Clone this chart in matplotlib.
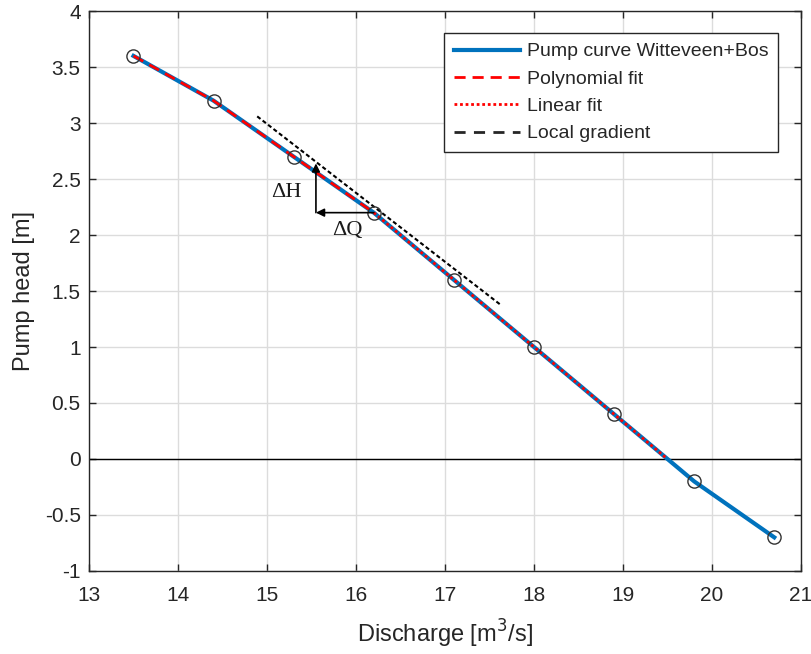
import matplotlib
matplotlib.use('Agg')
import matplotlib.pyplot as plt
import matplotlib.lines as mlines

# pump curve points (discharge in m3/s, head in m)
discharge = [13.5, 14.4, 15.3, 16.2, 17.1, 18.0, 18.9, 19.8, 20.7]
head = [3.6, 3.2, 2.7, 2.2, 1.6, 1.0, 0.4, -0.2, -0.7]

# fits
poly_q = [13.5, 14.4, 15.3, 16.2]
poly_h = [3.6, 3.2, 2.7, 2.2]
lin_q = [16.2, 19.5]
lin_h = [2.2, 0.0]

# local gradient line and the dH / dQ triangle
grad_q = [14.89, 17.62]
grad_h = [3.06, 1.38]
tri_q = [16.2, 15.55]
tri_h = [2.2, 2.64]

plt.rcParams['font.family'] = ['Liberation Sans', 'DejaVu Sans']
dark = '#262626'
blue = '#0072BD'

fig = plt.figure(figsize=(8.12, 6.54), dpi=100)
ax = fig.add_axes([0.1096, 0.127, 0.8768, 0.856])

ax.axhline(0, color='k', lw=1, zorder=2)
ax.plot(discharge, head, color=blue, lw=3, zorder=3)
ax.plot(poly_q, poly_h, color='red', lw=2, linestyle=(0, (4, 2.5)), zorder=4)
ax.plot(lin_q, lin_h, color='red', lw=2, linestyle=(0, (1, 1)), zorder=4)
ax.plot(grad_q, grad_h, color='k', lw=1.5, linestyle=(0, (2, 1.3)), zorder=4)
ax.plot(discharge, head, linestyle='None', marker='o', markersize=9.5,
        markerfacecolor='none', markeredgecolor='#333333', markeredgewidth=1, zorder=5)

arrow = dict(arrowstyle='-|>', color='k', lw=1.2, mutation_scale=12, shrinkA=0, shrinkB=0)
ax.annotate('', xy=(tri_q[1], tri_h[0]), xytext=(tri_q[0], tri_h[0]), arrowprops=arrow, zorder=6)
ax.annotate('', xy=(tri_q[1], tri_h[1]), xytext=(tri_q[1], tri_h[0]), arrowprops=arrow, zorder=6)
ax.text(15.22, 2.38, 'ΔH', family=['Liberation Serif', 'DejaVu Serif'], fontsize=16,
        ha='center', va='center', color='#1a1a1a')
ax.text(15.9, 2.04, 'ΔQ', family=['Liberation Serif', 'DejaVu Serif'], fontsize=16,
        ha='center', va='center', color='#1a1a1a')

ax.set_xlim(13, 21)
ax.set_ylim(-1, 4)
ax.set_xticks(range(13, 22))
ax.set_yticks([-1, -0.5, 0, 0.5, 1, 1.5, 2, 2.5, 3, 3.5, 4])
ax.set_yticklabels(['-1', '-0.5', '0', '0.5', '1', '1.5', '2', '2.5', '3', '3.5', '4'])
ax.grid(True, color='#dcdcdc', lw=1)
ax.set_axisbelow(True)
ax.tick_params(direction='in', top=True, right=True, length=5, width=1,
               colors=dark, labelsize=15)
ax.tick_params(axis='x', pad=11)
ax.tick_params(axis='y', pad=6)
for s in ax.spines.values():
    s.set_color(dark)
    s.set_linewidth(1)

ax.set_xlabel('Discharge [m$^3$/s]', fontsize=17, color=dark, labelpad=9)
ax.set_ylabel('Pump head [m]', fontsize=17, color=dark, labelpad=7)

h1 = mlines.Line2D([], [], color=blue, lw=3, label='Pump curve Witteveen+Bos')
h2 = mlines.Line2D([], [], color='red', lw=2, linestyle=(0, (4, 2.5)), label='Polynomial fit')
h3 = mlines.Line2D([], [], color='red', lw=2, linestyle=(0, (1, 1)), label='Linear fit')
h4 = mlines.Line2D([], [], color=dark, lw=2, linestyle=(0, (4, 3)), label='Local gradient')
leg = ax.legend(handles=[h1, h2, h3, h4], loc='upper right', bbox_to_anchor=(0.9677, 0.9607),
                borderaxespad=0, fontsize=14, handlelength=3.4, handletextpad=0.35,
                labelspacing=0.5, fancybox=False, framealpha=1, edgecolor=dark,
                borderpad=0.5)
leg.get_frame().set_linewidth(1)
for t in leg.get_texts():
    t.set_color(dark)

fig.savefig('out.png', dpi=100)
